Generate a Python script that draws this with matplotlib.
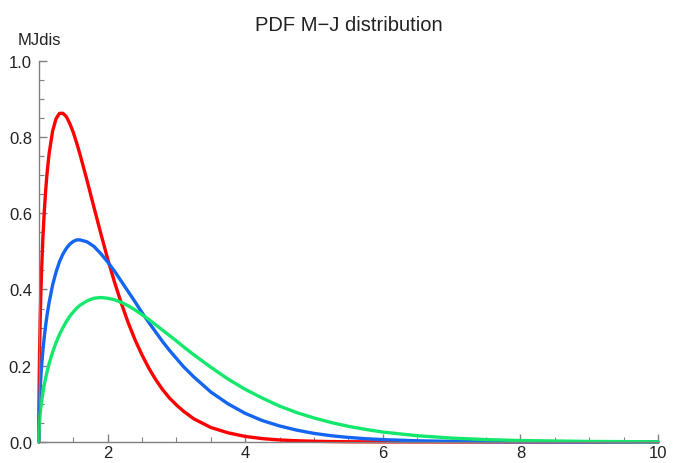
import matplotlib.pyplot as plt
import numpy as np

gamma = [1.0, 1.002, 1.005, 1.01, 1.02, 1.03, 1.04, 1.06, 1.08, 1.1, 1.12, 1.15,
         1.2, 1.25, 1.3, 1.35, 1.4, 1.45, 1.5, 1.55, 1.6, 1.7, 1.8, 1.9, 2.0,
         2.1, 2.2, 2.3, 2.4, 2.5, 2.6, 2.7, 2.8, 2.9, 3.0, 3.1, 3.25, 3.5, 3.75,
         4.0, 4.25, 4.5, 4.75, 5.0, 5.25, 5.5, 5.75, 6.0, 6.5, 7.0, 7.5, 8.0,
         9.0, 10.0]

red_vals = [0.0, 0.107, 0.168, 0.236, 0.329, 0.398, 0.454, 0.542, 0.609, 0.663,
            0.707, 0.758, 0.816, 0.848, 0.862, 0.862, 0.853, 0.835, 0.812, 0.784,
            0.753, 0.686, 0.616, 0.547, 0.480, 0.419, 0.363, 0.312, 0.267, 0.228,
            0.193, 0.163, 0.137, 0.115, 0.097, 0.081, 0.061, 0.038, 0.024, 0.0145,
            0.0088, 0.0053, 0.0032, 0.0019, 0.0011, 0.0006, 0.0004, 0.0002,
            0.0001, 0.0, 0.0, 0.0, 0.0, 0.0]

blue_vals = [0.0, 0.046, 0.072, 0.102, 0.143, 0.175, 0.201, 0.243, 0.278, 0.308,
             0.334, 0.367, 0.412, 0.446, 0.473, 0.493, 0.508, 0.519, 0.526, 0.530,
             0.530, 0.525, 0.513, 0.494, 0.472, 0.448, 0.421, 0.394, 0.367, 0.339,
             0.313, 0.288, 0.263, 0.240, 0.219, 0.198, 0.171, 0.131, 0.100, 0.075,
             0.056, 0.042, 0.031, 0.0225, 0.0164, 0.0119, 0.0086, 0.0062, 0.0031,
             0.0016, 0.0008, 0.0004, 0.0001, 0.0]

green_vals = [0.0, 0.024, 0.038, 0.054, 0.076, 0.093, 0.107, 0.131, 0.152, 0.169,
              0.185, 0.206, 0.236, 0.261, 0.282, 0.300, 0.316, 0.330, 0.341, 0.351,
              0.359, 0.370, 0.377, 0.379, 0.377, 0.373, 0.366, 0.357, 0.346, 0.334,
              0.321, 0.307, 0.293, 0.279, 0.265, 0.250, 0.229, 0.196, 0.165, 0.138,
              0.115, 0.094, 0.077, 0.063, 0.051, 0.041, 0.033, 0.026, 0.0164,
              0.0102, 0.0063, 0.0038, 0.0014, 0.0005]

x_ticks = [2, 4, 6, 8, 10]
y_ticks = [0.0, 0.2, 0.4, 0.6, 0.8, 1.0]

AXIS_COLOR = "#808080"
LABEL_COLOR = "#222222"

plt.rcParams["font.family"] = ["Liberation Sans", "DejaVu Sans"]

fig = plt.figure(figsize=(6.75, 4.64), dpi=100)
ax = fig.add_axes([0.0576, 0.0453, 0.9172, 0.8217])

line_kw = dict(lw=2.4, solid_joinstyle="round", solid_capstyle="round", clip_on=False)
ax.plot(gamma, red_vals, color="#ff0000", **line_kw)
ax.plot(gamma, blue_vals, color="#1466f2", **line_kw)
ax.plot(gamma, green_vals, color="#14e86c", **line_kw)

ax.set_xlim(1, 10)
ax.set_ylim(0, 1.0)
ax.set_xticks(x_ticks)
ax.set_xticklabels([str(t) for t in x_ticks])
ax.set_xticks(np.arange(1.5, 10, 0.5), minor=True)
ax.set_yticks(y_ticks)
ax.set_yticklabels([f"{t:.1f}" for t in y_ticks])
ax.set_yticks(np.arange(0.05, 1.0, 0.05), minor=True)

for side in ["top", "right"]:
    ax.spines[side].set_visible(False)
for side in ["left", "bottom"]:
    ax.spines[side].set_color(AXIS_COLOR)
    ax.spines[side].set_linewidth(1.0)

ax.tick_params(which="both", direction="in", color=AXIS_COLOR, labelcolor=LABEL_COLOR,
               labelsize=12)
ax.tick_params(which="major", length=6, width=1.0)
ax.tick_params(which="minor", length=3.5, width=0.8)
ax.tick_params(axis="x", pad=2)
ax.tick_params(axis="y", pad=5)

ax.text(0.0, 1.035, "MJdis", transform=ax.transAxes, ha="center", va="bottom",
        fontsize=12, color=LABEL_COLOR)
ax.set_title("PDF M\u2212J distribution", fontsize=14.5, color=LABEL_COLOR, pad=22)

fig.savefig("out.png", dpi=100)
